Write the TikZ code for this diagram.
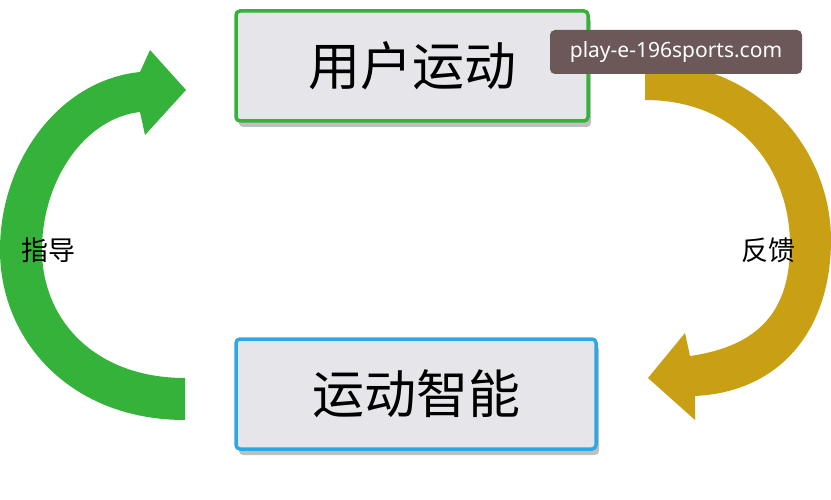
\documentclass[tikz,border=0pt]{standalone}
\usepackage{fontspec}
\setmainfont{Noto Sans}
\newfontfamily\cjk{Noto Sans CJK SC}
\usetikzlibrary{shadows}
\definecolor{boxfill}{HTML}{E6E5EA}
\definecolor{loopgreen}{HTML}{35B23A}
\definecolor{loopgold}{HTML}{C9A013}
\definecolor{boxblue}{HTML}{2EA9E0}
\definecolor{markbg}{HTML}{6C5858}
\tikzset{
  stagebox/.style={rectangle,rounded corners=4pt,fill=boxfill,line width=3.5pt,
    minimum width=352pt,minimum height=110pt,inner sep=0pt,
    drop shadow={shadow xshift=3pt,shadow yshift=-6pt,fill=black,opacity=0.25},
    font=\cjk\fontsize{52}{52}\selectfont},
  sidelabel/.style={font=\cjk\fontsize{27}{27}\selectfont},
  watermark/.style={rectangle,rounded corners=5pt,fill=markbg,text=white,
    minimum width=252pt,minimum height=44pt,font=\fontsize{21}{21}\selectfont}
}
\begin{document}
\begin{tikzpicture}[x=1pt,y=-1pt]
  \useasboundingbox[fill=white] (0,0) rectangle (831,500);
  % loop arrows
  \fill[loopgreen] (185,420) .. controls (70,420) and (0,340) .. (0,250)
    .. controls (0,160) and (60,80) .. (140,72) -- (150,50) -- (186,90) -- (145,135)
    -- (140,112) .. controls (85,118) and (42,180) .. (42,250)
    .. controls (42,320) and (95,378) .. (185,378) -- cycle;
  \fill[loopgold] (645,62) .. controls (760,62) and (831,150) .. (831,240)
    .. controls (831,330) and (780,392) .. (695,396) -- (695,420) -- (648,378)
    -- (685,333) -- (690,356) .. controls (760,346) and (790,310) .. (790,245)
    .. controls (790,170) and (740,100) .. (645,100) -- cycle;
  % stages
  \node[stagebox,draw=loopgreen] (user) at (412,66) {用户运动};
  \node[stagebox,draw=boxblue,minimum width=360pt] (intel) at (416,394) {运动智能};
  \node[sidelabel] (guide) at (48,250) {指导};
  \node[sidelabel] (feedback) at (768,250) {反馈};
  \node[watermark] (mark) at (676,52) {play-e-196sports.com};
\end{tikzpicture}
\end{document}
